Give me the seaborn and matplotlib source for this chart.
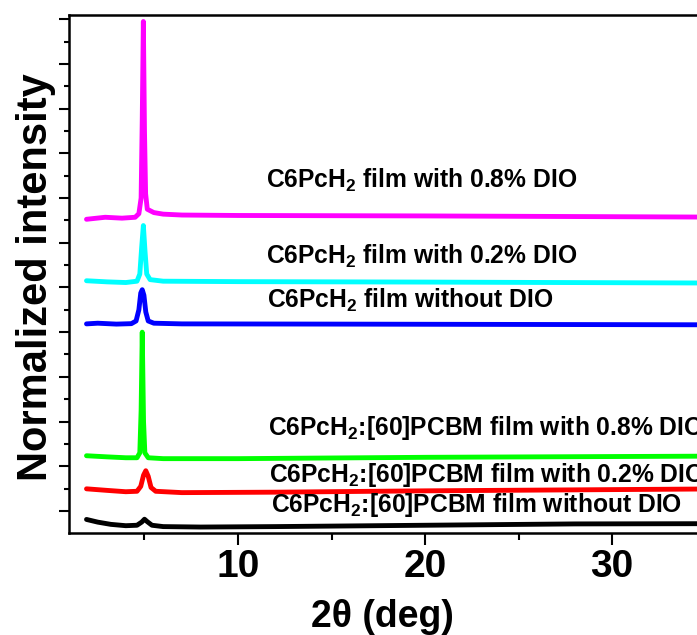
import matplotlib
matplotlib.use("Agg")
import matplotlib.pyplot as plt
import seaborn as sns
import pandas as pd
from matplotlib.ticker import FixedLocator, NullFormatter

# ---------------- data ----------------
mag_x = [1.9, 2.9, 3.8, 4.5, 4.7, 4.82, 4.88, 4.94, 5.0, 5.06, 5.15, 5.5, 6.0, 7.0, 10, 20, 34.6]
mag_y = [14.05, 14.14, 14.10, 14.14, 14.3, 15.0, 18.5, 22.9, 18.0, 15.2, 14.5, 14.35, 14.28, 14.24, 14.22, 14.2, 14.15]

cya_x = [1.9, 3.0, 4.0, 4.6, 4.75, 4.85, 4.94, 5.03, 5.12, 5.3, 6.0, 10, 20, 34.6]
cya_y = [11.3, 11.25, 11.22, 11.28, 11.6, 12.8, 13.77, 12.6, 11.6, 11.35, 11.28, 11.26, 11.24, 11.2]

blu_x = [1.9, 2.5, 3.5, 4.3, 4.55, 4.7, 4.8, 4.88, 4.97, 5.07, 5.2, 5.5, 7, 15, 34.6]
blu_y = [9.37, 9.40, 9.36, 9.38, 9.5, 10.0, 10.75, 10.9, 10.65, 9.9, 9.5, 9.4, 9.37, 9.36, 9.33]

grn_x = [1.9, 3.0, 4.0, 4.6, 4.75, 4.82, 4.88, 4.95, 5.02, 5.2, 6.0, 10, 20, 34.6]
grn_y = [3.47, 3.42, 3.38, 3.38, 3.6, 5.5, 9.0, 5.0, 3.6, 3.38, 3.34, 3.34, 3.40, 3.45]

red_x = [1.9, 3.0, 4.0, 4.6, 4.8, 4.95, 5.07, 5.2, 5.35, 5.6, 7, 12, 20, 34.6]
red_y = [1.99, 1.92, 1.86, 1.88, 2.1, 2.6, 2.8, 2.55, 2.05, 1.88, 1.82, 1.84, 1.9, 1.98]

blk_x = [1.9, 2.5, 3.2, 4.0, 4.6, 4.85, 5.0, 5.15, 5.4, 6.0, 8.0, 12, 20, 28, 34.6]
blk_y = [0.62, 0.5, 0.4, 0.34, 0.36, 0.5, 0.63, 0.52, 0.36, 0.3, 0.28, 0.3, 0.36, 0.42, 0.43]

series_names = ["C6PcH2 0.8% DIO", "C6PcH2 0.2% DIO", "C6PcH2 no DIO",
                "blend 0.8% DIO", "blend 0.2% DIO", "blend no DIO"]
series_colors = ["#FF00FF", "#00FFFF", "#0000FF", "#00FF00", "#FF0000", "#000000"]

labels = [r"C6PcH$_2$ film with 0.8% DIO",
          r"C6PcH$_2$ film with 0.2% DIO",
          r"C6PcH$_2$ film without DIO",
          r"C6PcH$_2$:[60]PCBM film with 0.8% DIO",
          r"C6PcH$_2$:[60]PCBM film with 0.2% DIO",
          r"C6PcH$_2$:[60]PCBM film without DIO"]
label_x = [11.48, 11.48, 11.57, 11.62, 11.66, 11.75]
label_y = [15.48, 12.08, 10.09, 4.40, 2.31, 0.97]

x_major = [10, 20, 30]
x_minor = [5, 15, 25, 35]
y_major = [1, 3, 5, 7, 9, 11, 13, 15, 17, 19, 21, 23]
y_minor = [2, 4, 6, 8, 10, 12, 14, 16, 18, 20, 22]

# ---------------- build table ----------------
frames = []
for name, xs, ys in zip(series_names,
                        [mag_x, cya_x, blu_x, grn_x, red_x, blk_x],
                        [mag_y, cya_y, blu_y, grn_y, red_y, blk_y]):
    frames.append(pd.DataFrame({"two_theta": xs, "intensity": ys, "sample": name}))
df = pd.concat(frames, ignore_index=True)

# ---------------- style ----------------
sns.set_theme(style="ticks")
plt.rcParams["font.family"] = ["Liberation Sans", "DejaVu Sans"]
plt.rcParams["font.weight"] = "bold"
plt.rcParams["text.color"] = "black"
plt.rcParams["axes.labelcolor"] = "black"
plt.rcParams["xtick.color"] = "black"
plt.rcParams["ytick.color"] = "black"
plt.rcParams["xtick.labelcolor"] = "black"
plt.rcParams["axes.edgecolor"] = "black"
plt.rcParams["mathtext.fontset"] = "custom"
plt.rcParams["mathtext.rm"] = "Liberation Sans:bold"
plt.rcParams["mathtext.it"] = "Liberation Sans:bold"
plt.rcParams["mathtext.bf"] = "Liberation Sans:bold"
plt.rcParams["mathtext.default"] = "rm"

fig = plt.figure(figsize=(6.97, 6.35), dpi=100)
ax = fig.add_axes([69.3 / 697, (635 - 533.3) / 635, (699 - 69.3) / 697, (533.3 - 15) / 635])

sns.lineplot(data=df, x="two_theta", y="intensity", hue="sample",
             hue_order=series_names, palette=series_colors,
             estimator=None, sort=False, linewidth=3.5, legend=False, ax=ax)
for ln in ax.get_lines():
    ln.set_solid_joinstyle("round")
    ln.set_solid_capstyle("round")

ax.set_xlim(0.98, 34.65)
ax.set_ylim(0, 23.19)

ax.xaxis.set_major_locator(FixedLocator(x_major))
ax.xaxis.set_minor_locator(FixedLocator(x_minor))
ax.yaxis.set_major_locator(FixedLocator(y_major))
ax.yaxis.set_minor_locator(FixedLocator(y_minor))
ax.yaxis.set_major_formatter(NullFormatter())
ax.set_xticklabels([str(v) for v in x_major])

ax.tick_params(axis="x", which="major", direction="out", length=8.5, width=1.5,
               labelsize=28, pad=3, color="black", labelcolor="black")
ax.tick_params(axis="x", which="minor", direction="out", length=5, width=1.5, color="black")
ax.tick_params(axis="y", which="major", direction="out", length=7.5, width=1.5, color="black")
ax.tick_params(axis="y", which="minor", direction="out", length=3.3, width=1.5, color="black")
for lab in ax.get_xticklabels():
    lab.set_fontweight("bold")
    lab.set_color("black")

for sp in ax.spines.values():
    sp.set_linewidth(1.8)
    sp.set_color("black")
    sp.set_visible(True)

ax.set_xlabel("")
ax.set_ylabel("")

for s, tx, ty in zip(labels, label_x, label_y):
    ax.text(tx, ty, s, fontsize=17.7, fontweight="bold", ha="left", va="baseline",
            color="black")

fig.text(382.5 / 697, 1 - 627 / 635, "2\u03b8 (deg)", fontsize=27, fontweight="bold",
         ha="center", va="baseline", color="black")
fig.text(36 / 697, 1 - 277 / 635, "Normalized intensity", fontsize=30,
         fontweight="bold", rotation=90, ha="center", va="center", color="black")

fig.savefig("out.png", dpi=100)
